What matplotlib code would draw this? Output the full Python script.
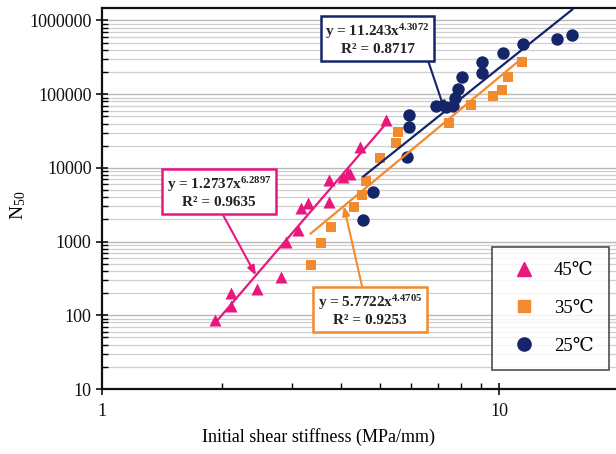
import numpy as np
import matplotlib
matplotlib.use("Agg")
import matplotlib.pyplot as plt
from matplotlib.ticker import FixedLocator, NullFormatter, FuncFormatter
from matplotlib.lines import Line2D

plt.rcParams['font.family'] = ['Liberation Serif', 'DejaVu Serif']
plt.rcParams['mathtext.fontset'] = 'custom'
plt.rcParams['mathtext.rm'] = 'Liberation Serif'
plt.rcParams['mathtext.bf'] = 'Liberation Serif:bold'
plt.rcParams['mathtext.it'] = 'Liberation Serif:italic'

# %%
# Data: stiffness (MPa/mm) vs N50
x45 = [1.93, 2.11, 2.11, 2.45, 2.82, 2.90, 3.11, 3.16, 3.29, 3.72, 3.72,
       4.03, 4.15, 4.20, 4.47, 5.17]
y45 = [87, 134, 200, 225, 330, 990, 1430, 2850, 3340, 3440, 6850,
       7500, 8500, 8200, 19000, 44700]

x35 = [3.35, 3.55, 3.76, 4.30, 4.52, 4.63, 5.02, 5.48, 5.57, 7.49, 8.46,
       9.66, 10.17, 10.5, 11.43]
y35 = [480, 960, 1580, 2950, 4300, 6600, 13600, 21800, 30700, 40600, 71000,
       95000, 114000, 171000, 274000]

x25 = [4.55, 4.82, 5.84, 5.91, 5.91, 6.91, 7.32, 7.66, 7.75, 7.89, 8.03,
       9.06, 9.06, 10.23, 11.49, 13.99, 15.26]
y25 = [1960, 4700, 14000, 36000, 52000, 69000, 67000, 69000, 89000, 118000,
       171000, 194000, 274000, 362000, 479000, 561000, 635000]

# power fits y = a*x^b as printed on the chart
fits = {
    '45': (1.2737, 6.2897, 0.9635),
    '35': (5.7722, 4.4705, 0.9253),
    '25': (11.243, 4.3072, 0.8717),
}

c45 = '#E8177E'
c35 = '#F28A2E'
c25 = '#14256A'

# %%
fig = plt.figure(figsize=(6.16, 4.54), dpi=100)
ax = fig.add_axes([102/616, 1-389/454, (619-102)/616, (389-7.5)/454])
ax.set_xscale('log')
ax.set_yscale('log')
ax.set_xlim(1, 20)
ax.set_ylim(10, 1.5e6)

# horizontal grid at every major and minor y position
ax.yaxis.grid(True, which='major', color='#b8b8b8', lw=1.0)
ax.yaxis.grid(True, which='minor', color='#cfcfcf', lw=0.9)
ax.xaxis.grid(False)
ax.set_axisbelow(True)

ax.scatter(x45, y45, marker='^', s=75, color=c45, zorder=3, lw=0)
ax.scatter(x35, y35, marker='s', s=62, color=c35, zorder=3, lw=0)
ax.scatter(x25, y25, marker='o', s=80, color=c25, zorder=3, lw=0)

for key, xs, col in [('45', x45, c45), ('35', x35, c35), ('25', x25, c25)]:
    a, b, r2 = fits[key]
    xx = np.array([min(xs), max(xs)])
    ax.plot(xx, a * xx**b, color=col, lw=1.6, zorder=4)

# equation boxes with leader arrows
boxes = [
    ('25', c25, (0.613, 0.913), 7.3, (0.97, 0.0)),
    ('45', c45, (0.3555, 0.576), 2.44, (0.51, 0.0)),
    ('35', c35, (0.6006, 0.316), 4.06, (0.44, 1.0)),
]
for key, col, pos, xt, rel in boxes:
    a, b, r2 = fits[key]
    a_s = ('%.3f' % a) if a >= 10 else ('%.4f' % a)
    txt = 'y = %sx' % a_s + r'$^{\mathbf{%.4f}}$' % b + '\nR² = %.4f' % r2
    ax.annotate(txt, xy=(xt, a * xt**b), xycoords='data',
                xytext=pos, textcoords='figure fraction',
                ha='center', va='center', multialignment='center',
                fontsize=11, fontweight='bold', color='#222222',
                bbox=dict(boxstyle='square,pad=0.3', fc='white', ec=col, lw=1.8),
                arrowprops=dict(arrowstyle='-|>,head_length=0.5,head_width=0.2',
                                color=col, lw=1.5, relpos=rel,
                                shrinkA=0, shrinkB=0),
                zorder=6)

# ticks
ax.xaxis.set_major_locator(FixedLocator([1, 10]))
ax.xaxis.set_minor_locator(FixedLocator([2, 3, 4, 5, 6, 7, 8, 9, 20]))
ax.xaxis.set_major_formatter(FuncFormatter(lambda v, p: '%d' % v))
ax.xaxis.set_minor_formatter(NullFormatter())
yt = [10, 100, 1000, 10000, 100000, 1000000]
ax.yaxis.set_major_locator(FixedLocator(yt))
ax.yaxis.set_major_formatter(FuncFormatter(lambda v, p: '%d' % v))
ax.yaxis.set_minor_formatter(NullFormatter())
ax.tick_params(which='major', direction='inout', length=8, width=1.2,
               labelsize=13, colors='#111111')
ax.tick_params(which='minor', direction='in', length=4, width=1.0)
ax.tick_params(axis='x', which='major', pad=6)

for s in ['left', 'bottom', 'top']:
    ax.spines[s].set_linewidth(1.6)
    ax.spines[s].set_color('#111111')
ax.spines['right'].set_visible(False)

ax.set_xlabel('Initial shear stiffness (MPa/mm)', fontsize=13)
ax.xaxis.set_label_coords((318-102)/517, -(428-389)/381.5)
ax.set_ylabel('N$_{50}$', fontsize=14)
ax.yaxis.set_label_coords(-(102-28)/517, 1-(205-7.5)/381.5)

handles = [
    Line2D([], [], ls='none', marker='^', ms=9.5, color=c45),
    Line2D([], [], ls='none', marker='s', ms=8.5, color=c35),
    Line2D([], [], ls='none', marker='o', ms=9.5, color=c25),
]
leg = ax.legend(handles, ['45℃', '35℃', '25℃'], loc='upper left',
                bbox_to_anchor=(492/616, 1-247/454), bbox_transform=fig.transFigure,
                frameon=True, fancybox=False, edgecolor='#222222',
                fontsize=13.5, labelspacing=1.1, borderpad=0.8,
                handletextpad=0.7, borderaxespad=0, handlelength=1.8)
leg.get_frame().set_linewidth(1.2)
leg.set_zorder(7)

fig.savefig('out.png', dpi=100)
